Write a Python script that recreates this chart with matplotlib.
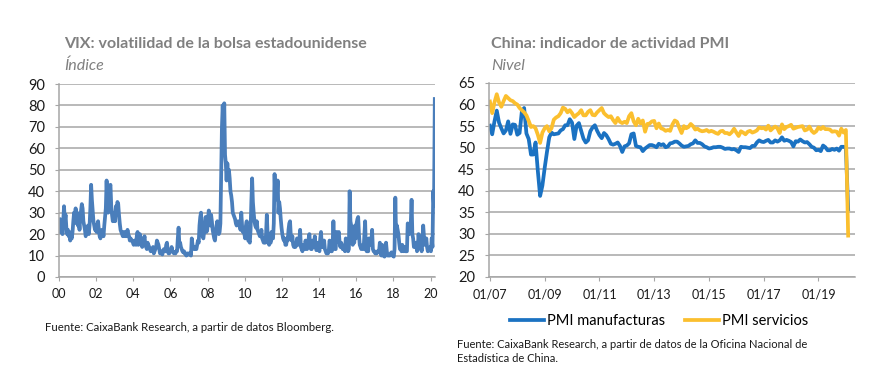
import numpy as np
import matplotlib
matplotlib.use("Agg")
import matplotlib.pyplot as plt

plt.rcParams['font.family'] = ['Lato', 'DejaVu Sans']

# VIX, two readings per month (first half / second half), Jan 2000 - Mar 2020
vix = [
    21, 27, 22, 25, 20, 26, 33, 26, 29, 23, 20, 22, 19, 21, 17, 19, 18, 21, 26, 30, 26, 32, 25, 30,  # 2000
    24, 27, 22, 28, 31, 34, 32, 26, 24, 22, 19, 21, 21, 24, 20, 24, 32, 43, 36, 31, 26, 24, 22, 24,  # 2001
    21, 24, 26, 22, 19, 18, 20, 22, 21, 19, 24, 28, 32, 45, 34, 30, 36, 42, 43, 33, 29, 26, 28, 30,  # 2002
    26, 33, 31, 35, 34, 29, 25, 22, 21, 20, 19, 21, 21, 19, 20, 19, 22, 20, 19, 17, 18, 17, 17, 16,  # 2003
    15, 17, 16, 15, 19, 21, 15, 17, 20, 18, 15, 14, 15, 17, 19, 15, 14, 13, 16, 15, 14, 13, 12, 13,  # 2004
    13, 14, 11, 12, 13, 14, 17, 16, 15, 13, 11, 12, 11, 10.5, 12, 13, 12, 12, 15, 16, 12, 11, 11, 12,  # 2005
    12, 14, 12, 11.5, 11, 11.5, 11, 12, 12, 18, 23, 15, 16, 14, 13, 12, 11.5, 12, 11, 10.5, 10, 11, 10.5, 11,  # 2006
    10.5, 11, 10, 18, 15, 14, 13, 14, 13, 13, 15, 17, 16, 24, 28, 30, 22, 19, 18, 21, 25, 28, 21, 22,  # 2007
    27, 31, 25, 24, 29, 26, 22, 20, 18, 17, 21, 24, 26, 22, 20, 21, 25, 46, 70, 80, 68, 81, 57, 53,  # 2008
    45, 53, 46, 50, 46, 40, 38, 35, 30, 29, 28, 27, 25, 24, 25, 26, 24, 24, 22, 30, 24, 21, 21, 20,  # 2009
    18, 24, 26, 20, 17, 17, 16, 22, 35, 46, 35, 30, 26, 24, 23, 26, 22, 21, 20, 19, 19, 22, 18, 17,  # 2010
    16, 18, 16, 20, 29, 20, 16, 15, 17, 16, 21, 18, 18, 25, 48, 36, 42, 37, 45, 30, 35, 32, 27, 23,  # 2011
    20, 18, 17, 18, 15, 15, 18, 17, 22, 25, 26, 19, 17, 19, 15, 14, 15, 14, 15, 18, 17, 15, 17, 22,  # 2012
    14, 13, 12, 15, 13, 13, 17, 14, 13, 14, 18, 20, 14, 13, 13, 17, 15, 14, 19, 14, 12.5, 13, 16, 13,  # 2013
    12, 18, 21, 14, 17, 14, 17, 13, 12, 11, 11, 11, 12, 17, 16, 12, 12, 15, 26, 16, 13, 13, 21, 19,  # 2014
    20, 21, 16, 14, 16, 15, 13, 13, 13, 12, 18, 14, 17, 12, 13, 40, 26, 24, 16, 15, 17, 16, 24, 18,  # 2015
    25, 27, 28, 20, 15, 14, 13, 14, 15, 13, 20, 26, 13, 12, 12, 12, 18, 15, 16, 16, 22, 13, 12, 12,  # 2016
    11, 11, 11, 12, 12, 12, 16, 11, 10, 15, 10, 11, 9.5, 10, 16, 12, 10, 10, 10, 10, 11, 11.5, 10, 10,  # 2017
    9.5, 13, 37, 19, 24, 22, 20, 16, 13, 13, 12, 15, 13, 12, 14, 12, 12, 12, 25, 24, 20, 21, 25, 36,  # 2018
    20, 18, 14, 14, 14, 16, 12, 13, 20, 16, 16, 15, 12, 17, 24, 19, 15, 15, 18, 14, 12, 12.5, 13, 14,  # 2019
    12, 18, 14, 40, 33, 83,  # 2020
]
vix_start = 2000
vix_ticks = list(range(2000, 2021, 2))
vix_ticklabels = ['00', '02', '04', '06', '08', '10', '12', '14', '16', '18', '20']

# China PMI (NBS), monthly Jan 2007 - Feb 2020
pmi_manuf = [
    55.1, 53.1, 56.1, 58.6, 55.8, 54.5, 53.3, 54.0, 56.1, 53.2, 55.4, 55.3,
    53.0, 53.4, 58.4, 59.2, 53.3, 52.0, 48.4, 48.4, 51.2, 44.6, 38.8, 41.2,
    45.3, 49.0, 52.4, 53.5, 53.1, 53.2, 53.3, 54.0, 54.3, 55.2, 55.2, 56.6,
    55.8, 52.0, 55.1, 55.7, 53.9, 52.1, 51.2, 51.7, 53.8, 54.7, 55.2, 53.9,
    52.9, 52.2, 53.4, 52.9, 52.0, 50.9, 50.7, 50.9, 51.2, 50.4, 49.0, 50.3,
    50.5, 51.0, 53.1, 53.3, 50.4, 50.2, 50.1, 49.2, 49.8, 50.2, 50.6, 50.6,
    50.4, 50.1, 50.9, 50.6, 50.8, 50.1, 50.3, 51.0, 51.1, 51.4, 51.4, 51.0,
    50.5, 50.2, 50.3, 50.4, 50.8, 51.0, 51.7, 51.1, 51.1, 50.8, 50.3, 50.1,
    49.8, 49.9, 50.1, 50.1, 50.2, 50.2, 50.0, 49.7, 49.8, 49.8, 49.6, 49.7,
    49.4, 49.0, 50.2, 50.1, 50.1, 50.0, 49.9, 50.4, 50.4, 51.2, 51.7, 51.4,
    51.3, 51.6, 51.8, 51.2, 51.2, 51.7, 51.4, 51.7, 52.4, 51.6, 51.8, 51.6,
    51.3, 50.3, 51.5, 51.4, 51.9, 51.5, 51.2, 51.3, 50.8, 50.2, 50.0, 49.4,
    49.5, 49.2, 50.5, 50.1, 49.4, 49.4, 49.7, 49.5, 49.8, 49.3, 50.2, 50.2,
    50.0, 35.7,
]
pmi_serv = [
    60.7, 58.0, 60.5, 62.4, 60.5, 59.5, 60.8, 62.0, 61.5, 61.0, 60.8, 60.3,
    60.0, 59.2, 58.7, 58.2, 57.5, 56.2, 54.8, 55.0, 54.5, 53.0, 51.1, 53.5,
    54.5, 55.0, 53.8, 54.5, 56.5, 57.0, 57.3, 58.0, 59.3, 59.0, 58.2, 58.7,
    58.0, 57.1, 57.6, 58.0, 58.7, 57.5, 57.5, 58.3, 58.7, 57.6, 57.5, 58.2,
    58.7, 59.2, 58.0, 57.5, 57.1, 57.3, 56.4, 55.7, 56.9, 56.0, 55.7, 56.0,
    55.7, 57.3, 58.0, 56.1, 55.2, 56.7, 55.6, 56.3, 53.7, 55.5, 55.6, 56.1,
    56.2, 54.5, 55.6, 54.5, 54.3, 53.9, 54.1, 53.9, 55.4, 56.3, 56.0, 54.6,
    53.4, 55.0, 54.5, 54.8, 55.5, 55.0, 54.2, 54.4, 54.0, 53.8, 53.9, 54.1,
    53.7, 53.9, 53.7, 53.4, 53.2, 53.8, 53.9, 53.4, 53.4, 53.1, 53.6, 54.4,
    53.5, 52.7, 53.8, 53.5, 53.1, 53.7, 53.9, 53.5, 53.7, 54.0, 54.7, 54.5,
    54.6, 54.2, 55.1, 54.0, 54.5, 54.9, 54.5, 53.4, 55.4, 54.3, 54.8, 55.0,
    55.3, 54.4, 54.6, 54.8, 54.9, 55.0, 54.0, 54.2, 54.9, 53.9, 53.4, 53.8,
    54.7, 54.3, 54.8, 54.3, 54.3, 54.2, 53.7, 53.8, 53.7, 52.8, 54.4, 53.5,
    54.1, 29.6,
]
pmi_ticklabels = ['01/07', '01/09', '01/11', '01/13', '01/15', '01/17', '01/19']

grey = '#a6a6a6'
title_grey = '#808080'

fig = plt.figure(figsize=(8.83, 3.79), dpi=100)
W, H = 883.0, 379.0


def style_axes(ax):
    for s in ['top', 'right']:
        ax.spines[s].set_visible(False)
    for s in ['left', 'bottom']:
        ax.spines[s].set_color(grey)
        ax.spines[s].set_linewidth(1.1)
    ax.yaxis.grid(True, color=grey, lw=1.1)
    ax.set_axisbelow(True)
    ax.tick_params(axis='y', length=3, color=grey, pad=7, labelsize=10.5, labelcolor='#1a1a1a')
    ax.tick_params(axis='x', length=3, color=grey, pad=5, labelsize=9, labelcolor='#1a1a1a')


# --- left: VIX ---
ax1 = fig.add_axes([59 / W, 102 / H, 376 / W, 193 / H])
vix_x = vix_start + (np.arange(len(vix)) + 0.5) / 24.0
ax1.plot(vix_x, vix, color='#4a7ebb', lw=2.7, solid_joinstyle='round')
ax1.set_ylim(0, 90)
ax1.set_yticks(range(0, 91, 10))
ax1.set_xlim(2000, 2020.24)
ax1.set_xticks(vix_ticks)
ax1.set_xticklabels(vix_ticklabels)
style_axes(ax1)

# --- right: China PMI ---
ax2 = fig.add_axes([489 / W, 102 / H, 366 / W, 194 / H])
months = np.arange(len(pmi_manuf))
l1, = ax2.plot(months, pmi_manuf, color='#1b72c2', lw=2.7, label='PMI manufacturas')
l2, = ax2.plot(months, pmi_serv, color='#fbbf2e', lw=2.7, label='PMI servicios')
ax2.set_ylim(20, 65)
ax2.set_yticks(range(20, 66, 5))
ax2.set_xlim(-0.4, 160)
ax2.set_xticks(range(0, 145, 24))
ax2.set_xticklabels(pmi_ticklabels)
style_axes(ax2)
ax2.legend(handles=[l1, l2], loc='center', bbox_to_anchor=(659 / W, 1 - 321 / H),
           bbox_transform=fig.transFigure, ncol=2, frameon=False, fontsize=10.5,
           handlelength=2.3, handletextpad=0.2, columnspacing=1.4, borderpad=0)

# titles
fig.text(64 / W, 1 - 48 / H, 'VIX: volatilidad de la bolsa estadounidense',
         fontsize=11.5, fontweight='bold', color=title_grey, va='baseline')
fig.text(64 / W, 1 - 70 / H, 'Índice', fontsize=11.5, style='italic',
         color=title_grey, va='baseline')
fig.text(491 / W, 1 - 48 / H, 'China: indicador de actividad PMI',
         fontsize=11.5, fontweight='bold', color=title_grey, va='baseline')
fig.text(491 / W, 1 - 70 / H, 'Nivel', fontsize=11.5, style='italic',
         color=title_grey, va='baseline')

# sources
fig.text(45 / W, 1 - 331 / H, 'Fuente: CaixaBank Research, a partir de datos Bloomberg.',
         fontsize=8.2, color='#1a1a1a', va='baseline')
fig.text(457 / W, 1 - 348 / H,
         'Fuente: CaixaBank Research, a partir de datos de la Oficina Nacional de',
         fontsize=8, color='#1a1a1a', va='baseline')
fig.text(457 / W, 1 - 362 / H, 'Estadística de China.',
         fontsize=8, color='#1a1a1a', va='baseline')

fig.savefig('out.png', dpi=100)
